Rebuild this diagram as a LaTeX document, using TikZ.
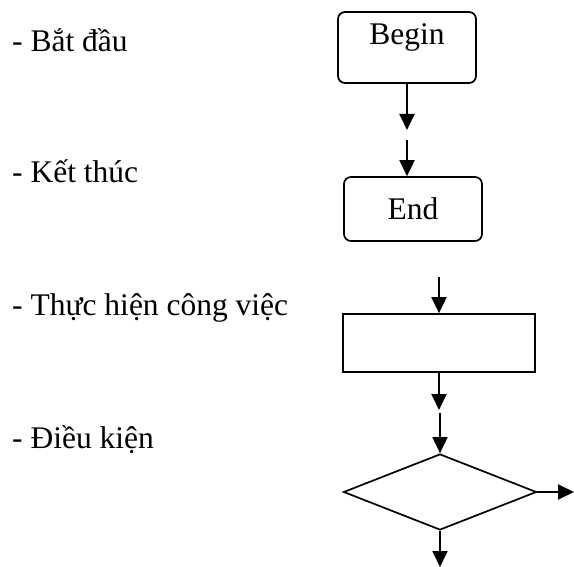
\documentclass[tikz,border=0pt]{standalone}
\usepackage{fontspec}
\setmainfont{Liberation Serif}
\usetikzlibrary{arrows.meta,shapes.geometric}
\begin{document}
\begin{tikzpicture}[x=1pt,y=-1pt,
  every node/.style={font=\fontsize{31.5}{36}\selectfont},
  lbl/.style={anchor=base west,inner sep=0pt},
  txt/.style={anchor=base,inner sep=0pt},
  termbox/.style={draw,line width=1.7pt,rounded corners=7pt,inner sep=0pt},
  actbox/.style={draw,line width=1.7pt,inner sep=0pt},
  condbox/.style={draw,diamond,line width=1.7pt,inner sep=0pt},
  arr/.style={line width=1.9pt,-{Triangle[length=16pt,width=15pt]}}]
\useasboundingbox (0,0) rectangle (574,567);
% labels
\node[lbl] (l1) at (12,52) {- Bắt đầu};
\node[lbl] (l2) at (12,183) {- Kết thúc};
\node[lbl] (l3) at (12,316) {- Thực hiện công việc};
\node[lbl] (l4) at (12,448) {- Điều kiện};
% begin
\node[termbox,minimum width=138pt,minimum height=71pt] (begin) at (407,47.5) {};
\node[txt] (begintxt) at (407,45) {Begin};
\coordinate (b1) at (407,130);
\draw[arr] (begin.south) -- (b1);
% end
\node[termbox,minimum width=138pt,minimum height=64pt] (endbox) at (413,209) {};
\node[txt] (endtxt) at (413,220) {End};
\coordinate (e1) at (407,140);
\draw[arr] (e1) -- (e1 |- endbox.north);
% action
\node[actbox,minimum width=192pt,minimum height=58pt] (act) at (439,343) {};
\coordinate (a0) at (439,277);
\draw[arr] (a0) -- (act.north);
\coordinate (a1) at (439,410);
\draw[arr] (act.south) -- (a1);
% condition
\node[condbox,minimum width=193pt,minimum height=76pt] (cond) at (440,492) {};
\coordinate (c0) at (440,413);
\draw[arr] (c0) -- (cond.north);
\coordinate (c1) at (574,492);
\draw[arr] (cond.east) -- (c1);
\coordinate (c2) at (440,567);
\draw[arr] (cond.south) -- (c2);
\end{tikzpicture}
\end{document}
